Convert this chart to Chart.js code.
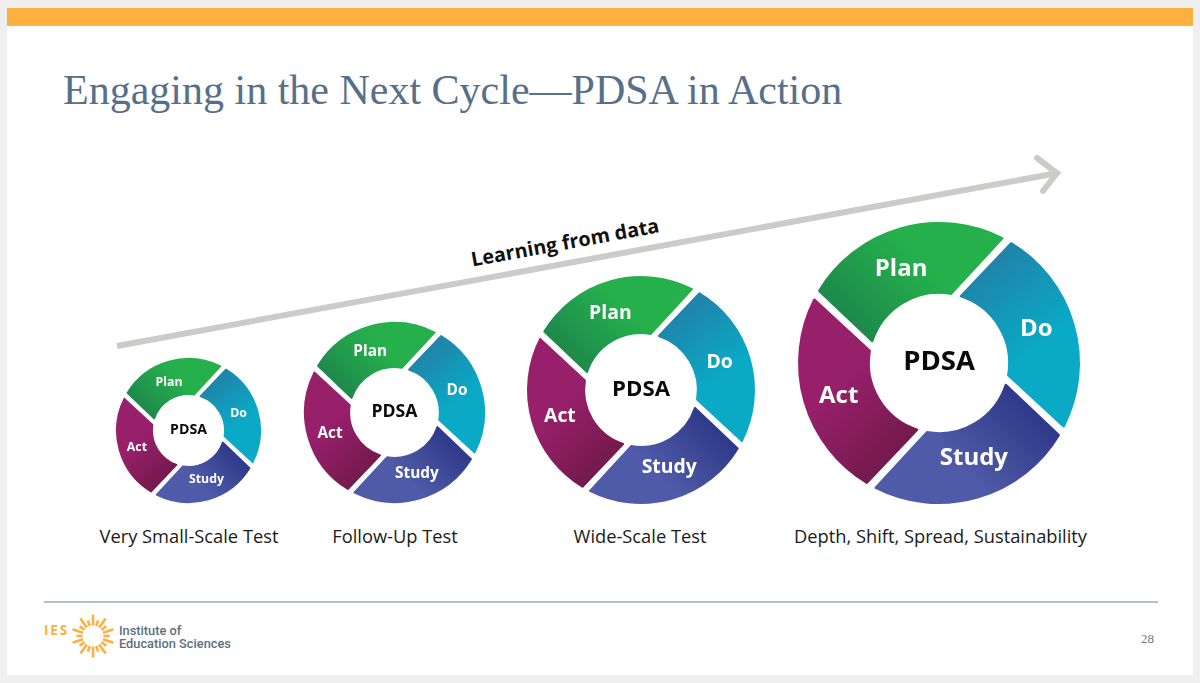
<!DOCTYPE html>
<html>
<head>
<meta charset="utf-8">
<title>PDSA in Action</title>
<script src="https://cdn.jsdelivr.net/npm/chart.js@4"></script>
<style>
  html, body { margin: 0; padding: 0; background: #efefef; }
  #slide { position: relative; width: 1200px; height: 683px; overflow: hidden; }
  #paper { position: absolute; left: 7px; top: 8px; width: 1186px; height: 667px; background: #fff; }
  #band { position: absolute; left: 7px; top: 8px; width: 1186px; height: 18px; background: #fdb03e; }
  #title { position: absolute; left: 63px; top: 66px; font: 42px "Liberation Serif", serif; color: #56708a; white-space: nowrap; }
  #rule { position: absolute; left: 44px; top: 601px; width: 1114px; height: 2px; background: #b9bfc8; }
  #arrow, #sun { position: absolute; left: 0; top: 0; }
  #learning { position: absolute; left: 565px; top: 242px; font: 700 19.8px "Open Sans", sans-serif; color: #111; white-space: nowrap;
    transform: translate(-50%, -50%) rotate(-10.4deg); }
  .caption { position: absolute; top: 523px; font: 18.3px "Open Sans", sans-serif; color: #1a1a1a; white-space: nowrap; transform: translateX(-50%); }
  canvas { position: absolute; }
  #ies { position: absolute; left: 44px; top: 621px; font: 700 13.5px "Open Sans", sans-serif; color: #fbb040; letter-spacing: 1.8px; }
  #org { position: absolute; left: 119px; top: 624px; font: 500 12.8px/13px Roboto, sans-serif; color: #5d6e80; }
  #page { position: absolute; left: 1141px; top: 631px; font: 13px "Liberation Serif", serif; color: #6b7b8c; }
</style>
</head>
<body>
<div id="slide">
  <div id="paper"></div>
  <div id="band"></div>
  <div id="title">Engaging in the Next Cycle—PDSA in Action</div>
  <svg id="arrow" width="1200" height="683">
    <g fill="none" stroke="#cbcbc9" stroke-width="6">
      <line x1="117" y1="346" x2="1055" y2="173.5"/>
      <polyline points="1037,158 1057,173 1043,191" stroke-linecap="round"/>
    </g>
  </svg>
  <div id="learning">Learning from data</div>
  <div id="rule"></div>
  <div id="ies">IES</div>
  <svg id="sun" width="1200" height="683"></svg>
  <div id="org">Institute of<br>Education Sciences</div>
  <div id="page">28</div>
</div>

<script>
const segments = ['Plan', 'Do', 'Study', 'Act'];
const segmentValues = [25, 25, 25, 25];
const centerLabel = 'PDSA';
const stageLabels = ['Very Small-Scale Test', 'Follow-Up Test', 'Wide-Scale Test', 'Depth, Shift, Spread, Sustainability'];

// each segment goes from its dark corner to its main colour
const darkColors = ['#1e8a4b', '#1f85aa', '#2f3a8a', '#751a4e'];
const mainColors = ['#25b04c', '#0aa9c6', '#4f5ba8', '#98206b'];
const gradientDirs = [[0.7, -0.7], [0.6, 0.8], [-0.7, 0.7], [-0.7, -0.7]];
// label nudge from the arc centre, in px on the biggest ring
const labelNudge = [[4, 2], [1, 8], [-7, -1], [-4, -9]];

// centre x, centre y, outer radius, caption x
const rings = [
    { cx: 188, cy: 430.5, r: 72.5, capX: 189 },
    { cx: 394.5, cy: 412.5, r: 90.5, capX: 395 },
    { cx: 641, cy: 390, r: 114, capX: 640 },
    { cx: 938.5, cy: 362.5, r: 141, capX: 940.5 }
];

const PAD = 4;
const SKEW = 7.5 * Math.PI / 180;

// arcs come from the doughnut controller, only the ends are slanted to get the pinwheel look
const pinwheel = {
    id: 'pinwheel',
    beforeDatasetDraw(chart) {
        const ctx = chart.ctx;
        const arcs = chart.getDatasetMeta(0).data;
        arcs.forEach(function(arc, i) {
            const { x, y, startAngle, endAngle, innerRadius, outerRadius } = arc.getProps(['x', 'y', 'startAngle', 'endAngle', 'innerRadius', 'outerRadius']);
            const gap = outerRadius * 0.027 + 1.2;
            const round = outerRadius * 0.012 + 0.6;
            const outer = outerRadius - round / 2;
            const inner = innerRadius + round / 2;
            const center = arc.getCenterPoint();
            const dir = gradientDirs[i];
            const len = outerRadius * 0.5;
            const fill = ctx.createLinearGradient(center.x - dir[0] * len, center.y - dir[1] * len, center.x + dir[0] * len, center.y + dir[1] * len);
            fill.addColorStop(0, darkColors[i]);
            fill.addColorStop(0.65, mainColors[i]);

            ctx.save();
            ctx.beginPath();
            ctx.arc(x, y, outer, startAngle + SKEW + gap / outer, endAngle + SKEW - gap / outer);
            ctx.arc(x, y, inner, endAngle - SKEW - gap / inner, startAngle - SKEW + gap / inner, true);
            ctx.closePath();
            ctx.fillStyle = fill;
            ctx.strokeStyle = fill;
            ctx.lineWidth = round;
            ctx.lineJoin = 'round';
            ctx.fill();
            ctx.stroke();
            ctx.restore();
        });
        return false;
    },
    afterDatasetsDraw(chart) {
        const ctx = chart.ctx;
        const arcs = chart.getDatasetMeta(0).data;
        const scale = arcs[0].outerRadius / 141;
        ctx.save();
        ctx.textAlign = 'center';
        ctx.textBaseline = 'middle';
        ctx.fillStyle = '#fff';
        ctx.font = '700 ' + (24 * scale) + 'px "Open Sans", sans-serif';
        arcs.forEach(function(arc, i) {
            const p = arc.getCenterPoint();
            ctx.fillText(segments[i], p.x + labelNudge[i][0] * scale, p.y + labelNudge[i][1] * scale);
        });
        ctx.fillStyle = '#0a0a0a';
        ctx.font = '700 ' + (27.5 * scale) + 'px "Open Sans", sans-serif';
        ctx.fillText(centerLabel, arcs[0].x, arcs[0].y - scale);
        ctx.restore();
    }
};

const slide = document.getElementById('slide');

rings.forEach(function(ring, i) {
    const size = Math.round((ring.r + PAD) * 2);
    const canvas = document.createElement('canvas');
    canvas.width = size;
    canvas.height = size;
    canvas.style.left = (ring.cx - size / 2) + 'px';
    canvas.style.top = (ring.cy - size / 2) + 'px';
    slide.appendChild(canvas);

    new Chart(canvas, {
        type: 'doughnut',
        data: {
            labels: segments,
            datasets: [{ data: segmentValues, borderWidth: 0 }]
        },
        options: {
            responsive: false,
            animation: false,
            cutout: '49%',
            rotation: -68.5,
            layout: { padding: PAD },
            plugins: { legend: { display: false }, tooltip: { enabled: false } }
        },
        plugins: [pinwheel]
    });

    const cap = document.createElement('div');
    cap.className = 'caption';
    cap.style.left = ring.capX + 'px';
    cap.textContent = stageLabels[i];
    slide.appendChild(cap);
});

// IES logo rays
const sun = document.getElementById('sun');
let rays = '';
for (let k = 0; k < 20; k++) {
    const a = k * Math.PI / 10 - Math.PI / 2;
    const long = k % 2 === 0;
    const r1 = 10.5;
    const r2 = long ? 21.5 : 16.5;
    rays += '<line x1="' + (93 + r1 * Math.cos(a)) + '" y1="' + (636 + r1 * Math.sin(a)) + '" x2="' + (93 + r2 * Math.cos(a)) + '" y2="' + (636 + r2 * Math.sin(a)) + '" stroke="#fbb040" stroke-width="2.6"/>';
}
sun.innerHTML = rays;
</script>
</body>
</html>
